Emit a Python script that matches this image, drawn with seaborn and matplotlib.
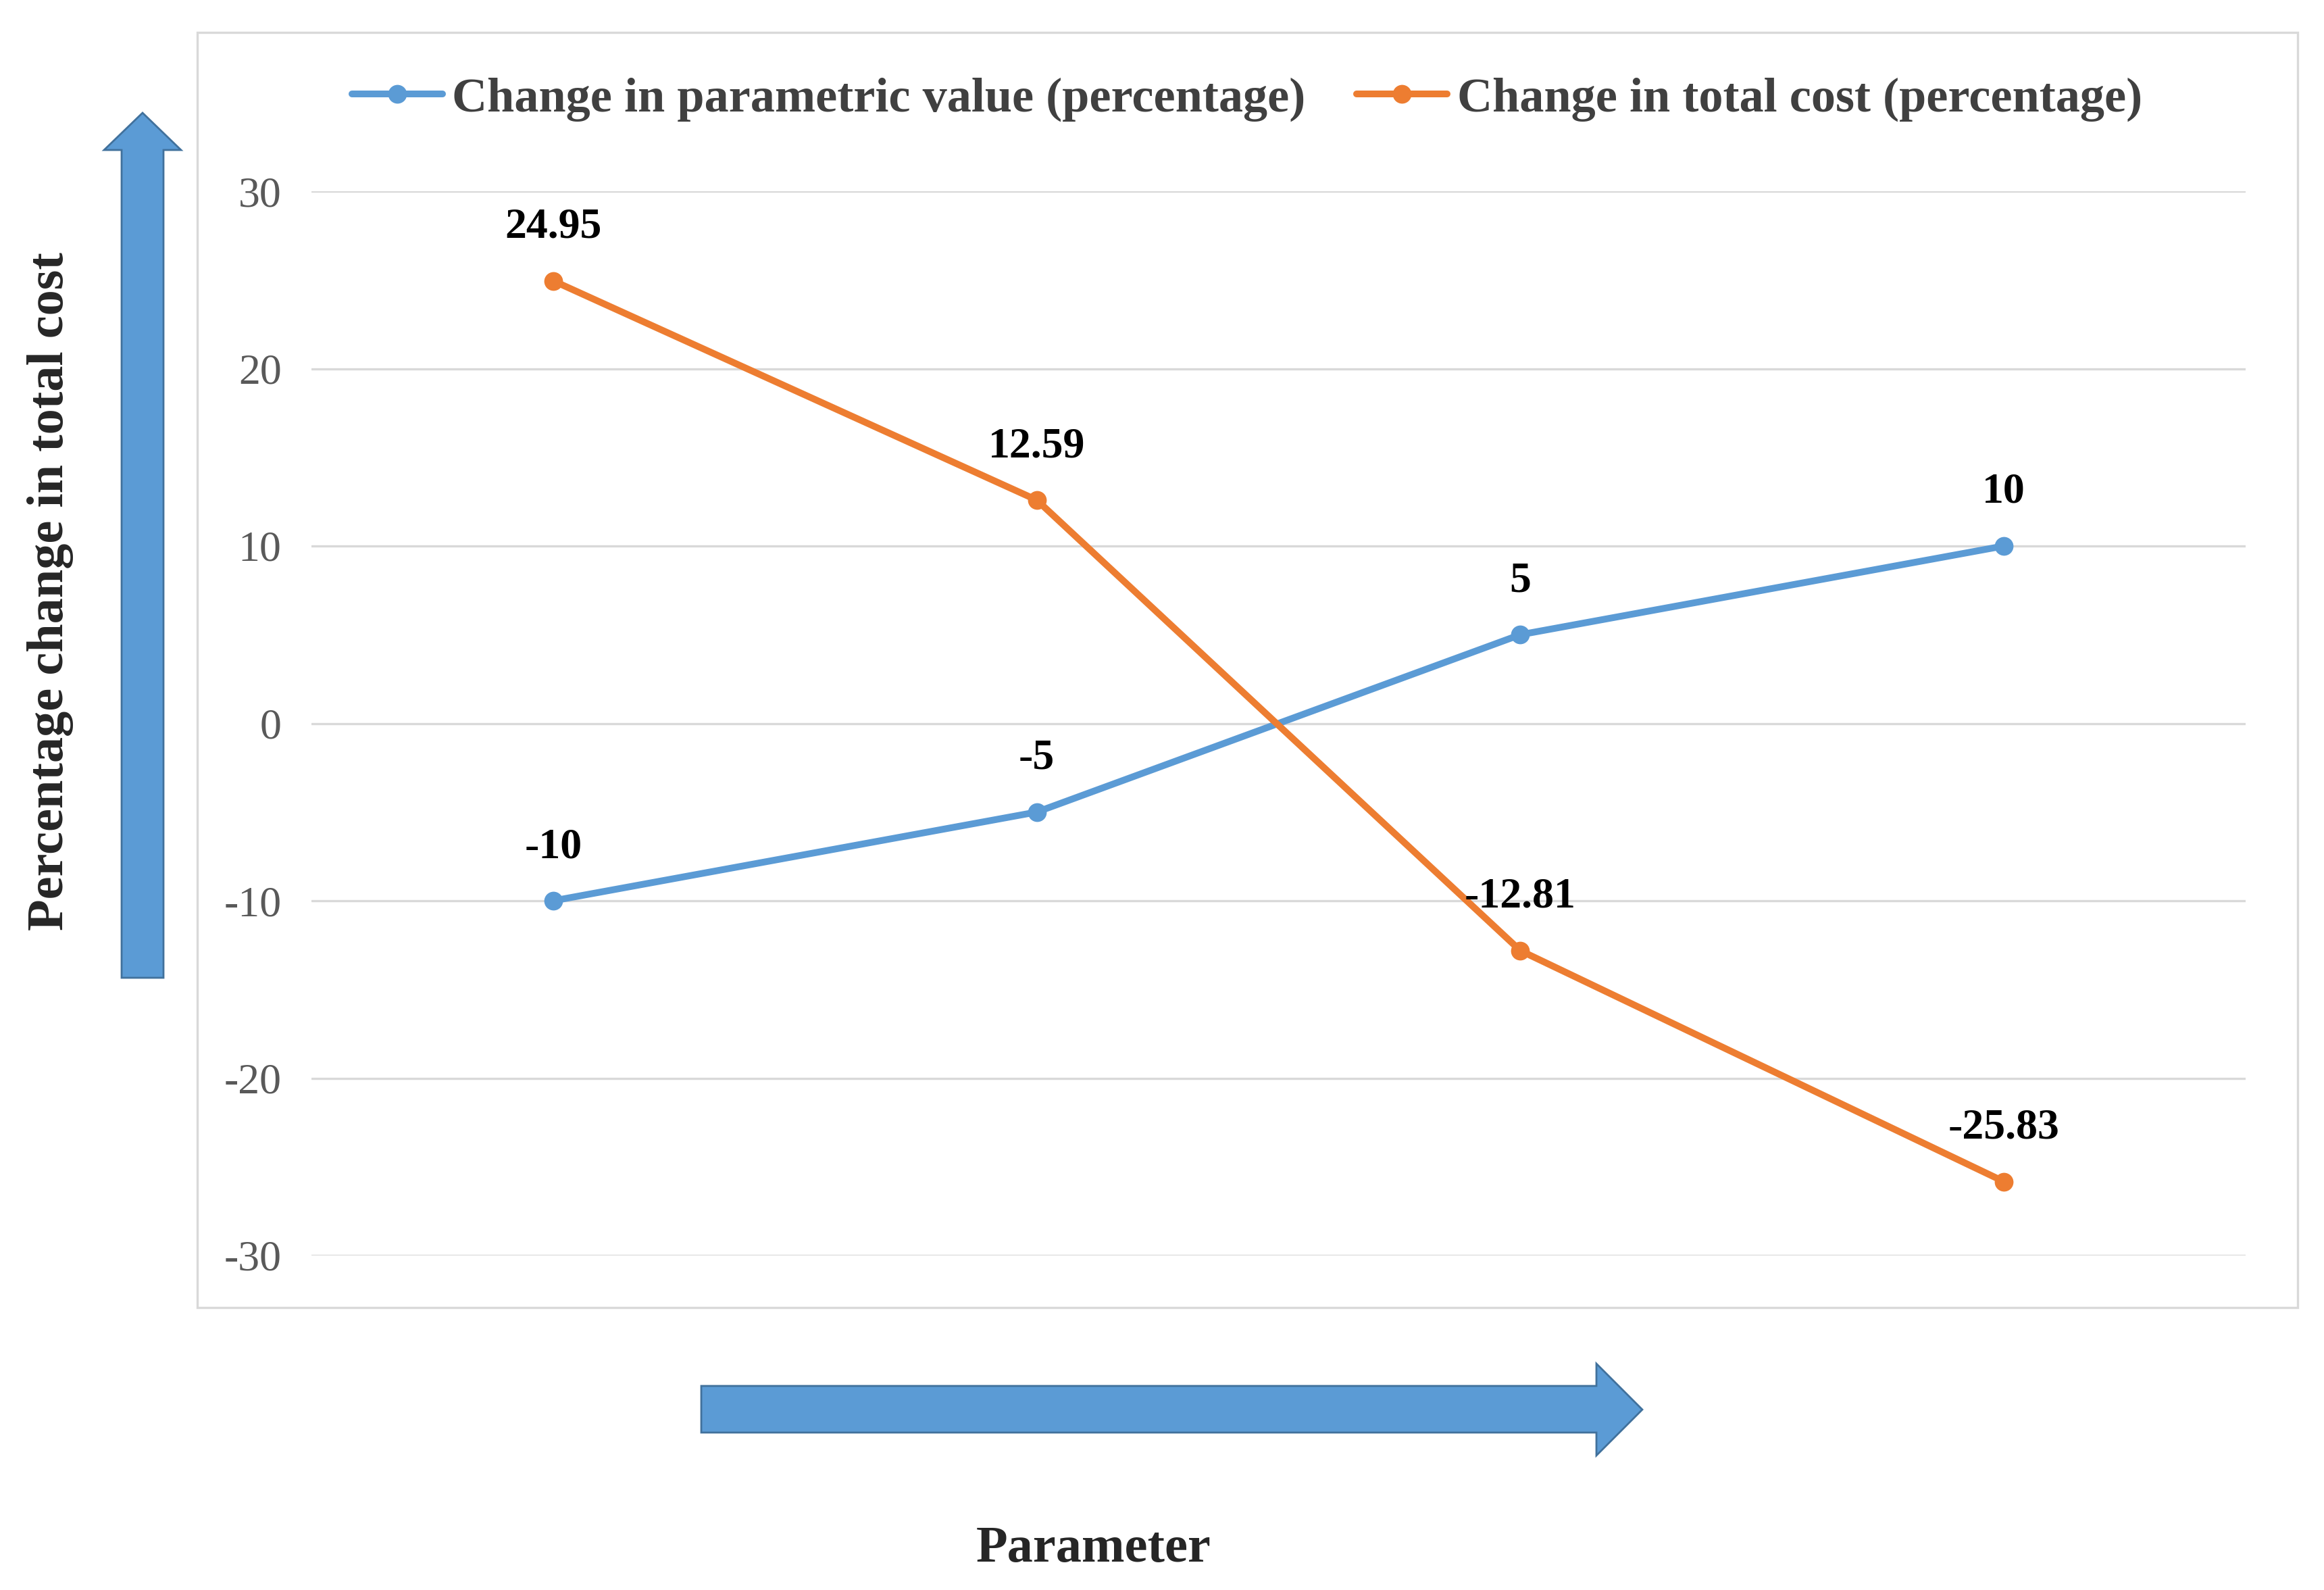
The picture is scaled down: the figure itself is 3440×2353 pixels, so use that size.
"""
Sensitivity of total cost to a change in one parameter.
Two series on an unlabeled 4-step axis, Excel-like styling.
"""

import matplotlib
matplotlib.use('Agg')
import matplotlib.pyplot as plt
from matplotlib.patches import Polygon, Rectangle
import pandas as pd
import seaborn as sns

# data
steps = ['1', '2', '3', '4']
param_change = [-10, -5, 5, 10]
cost_change = [24.95, 12.59, -12.81, -25.83]
series_names = ['Change in parametric value (percentage)',
                'Change in total cost (percentage)']
y_ticks = [-30, -20, -10, 0, 10, 20, 30]

BLUE = '#5B9BD5'
ORANGE = '#ED7D31'
GRID = '#D9D9D9'

W, H = 3440, 2353
DPI = 200


def fx(px):
    return px / W


def fy(py):
    return 1 - py / H


df = pd.DataFrame({
    'step': steps * 2,
    'value': param_change + cost_change,
    'series': [series_names[0]] * 4 + [series_names[1]] * 4,
})

sns.set_style('white')
plt.rcParams['font.family'] = ['Liberation Serif', 'DejaVu Serif']

fig = plt.figure(figsize=(W / DPI, H / DPI), dpi=DPI)
ax = fig.add_axes([fx(461), fy(1858), fx(3324) - fx(461), fy(283) - fy(1858)])

sns.lineplot(data=df, x='step', y='value', hue='series', ax=ax,
             palette=[BLUE, ORANGE], marker='o', markersize=10,
             markeredgewidth=0, linewidth=3.6, legend=False)

ax.set_xlim(-0.5, 3.5)
ax.set_ylim(-30, 30)
ax.set_yticks(y_ticks)
ax.set_yticklabels([str(t) for t in y_ticks])
ax.set_xticks([])
ax.set(xlabel='', ylabel='')
ax.grid(axis='y', color=GRID, linewidth=1.2)
ax.set_axisbelow(True)
for s in ax.spines.values():
    s.set_visible(False)
ax.tick_params(axis='y', length=0, pad=16, labelsize=23, labelcolor='#595959')

# value labels above each point
for vals in (param_change, cost_change):
    for i, v in enumerate(vals):
        ax.annotate(f'{v:g}', (i, v), xytext=(0, 18), textcoords='offset points',
                    ha='center', va='bottom', fontsize=23, fontweight='bold',
                    color='black')

# legend across the top
handles = [plt.Line2D([], [], color=c, marker='o', markersize=10, linewidth=3.6,
                      markeredgewidth=0) for c in (BLUE, ORANGE)]
fig.legend(handles, series_names, loc='center', ncol=2,
           bbox_to_anchor=(fx(1846), fy(147)), frameon=False,
           prop={'size': 26, 'weight': 'bold'}, labelcolor='#404040',
           handlelength=1.85, handletextpad=0.2, columnspacing=1.05)

# chart frame
fig.add_artist(Rectangle((fx(292), fy(1935)), fx(3401) - fx(292), fy(48) - fy(1935),
                         transform=fig.transFigure, fill=False,
                         edgecolor=GRID, linewidth=1.2))

# vertical arrow (left)
v_pts = [(180, 1447), (242, 1447), (242, 222), (268, 222), (211, 167),
         (154, 222), (180, 222)]
fig.add_artist(Polygon([(fx(x), fy(y)) for x, y in v_pts], closed=True,
                       transform=fig.transFigure, facecolor=BLUE,
                       edgecolor='#41719C', linewidth=1))

# horizontal arrow (bottom)
h_pts = [(1038, 2051), (2363, 2051), (2363, 2018), (2431, 2086), (2363, 2154),
         (2363, 2120), (1038, 2120)]
fig.add_artist(Polygon([(fx(x), fy(y)) for x, y in h_pts], closed=True,
                       transform=fig.transFigure, facecolor=BLUE,
                       edgecolor='#41719C', linewidth=1))

fig.text(fx(75), fy(875), 'Percentage change in total cost', rotation=90,
         ha='center', va='center', fontsize=27.5, fontweight='bold')
fig.text(fx(1619), fy(2293), 'Parameter', ha='center', va='center',
         fontsize=27.5, fontweight='bold')

fig.savefig('out.png', dpi=DPI, facecolor='white')
